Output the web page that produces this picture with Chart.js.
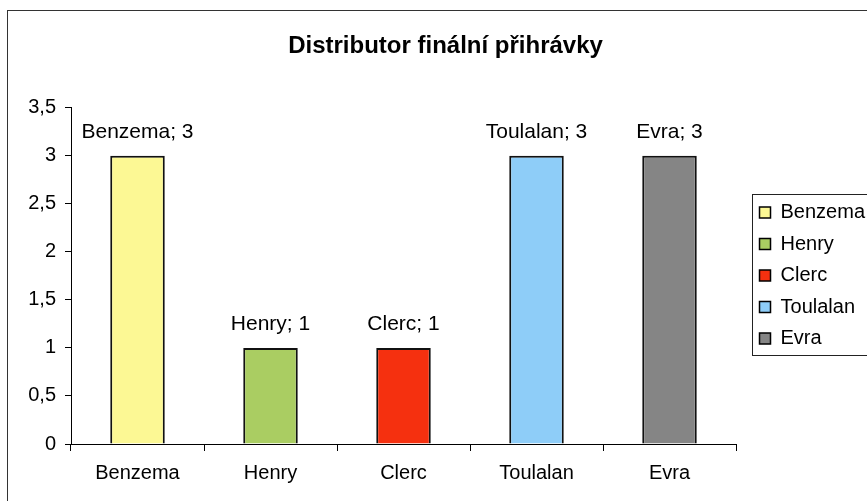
<!DOCTYPE html>
<html>
<head>
<meta charset="utf-8">
<script src="https://cdn.jsdelivr.net/npm/chart.js@4"></script>
<style>
  html, body { margin: 0; padding: 0; background: #fff; overflow: hidden; }
  #wrap { width: 867px; height: 501px; overflow: hidden; }
</style>
</head>
<body>
<div id="wrap"><canvas id="graf" width="900" height="501"></canvas></div>
<script>
// Datos del gráfico
const hraci = ["Benzema", "Henry", "Clerc", "Toulalan", "Evra"];
const prihravky = [3, 1, 1, 3, 3];
const barvy = ["#fcf894", "#aacd62", "#f5300f", "#8ecdf8", "#858585"];
const osaY = [0, 0.5, 1, 1.5, 2, 2.5, 3, 3.5];

const fuente = "'Liberation Sans', Arial, sans-serif";

// Marco exterior + recuadro de la leyenda + etiquetas de datos
const extras = {
  id: "extras",
  afterInit(chart) {
    // leyenda algo más ancha para dejar hueco tras el eje X
    const lg = chart.legend;
    const fitOrig = lg.fit.bind(lg);
    lg.fit = function () { fitOrig(); this.width += 21; };
  },
  afterLayout(chart) {
    const lg = chart.legend;
    lg.left += 12; lg.right += 12;
    lg.top += 20; lg.bottom += 20;
  },
  beforeDraw(chart) {
    const c = chart.ctx;
    c.save();
    c.strokeStyle = "#333";
    c.lineWidth = 1;
    c.strokeRect(7.5, 10.5, 1000, 600);
    c.restore();
  },
  afterDraw(chart) {
    const c = chart.ctx;
    const hb = chart.legend.legendHitBoxes;
    c.save();
    c.strokeStyle = "#222";
    c.lineWidth = 1;
    const x0 = Math.round(hb[0].left) - 8;
    const y0 = Math.round(hb[0].top) - 9;
    const y1 = Math.round(hb[hb.length - 1].top + hb[hb.length - 1].height) + 6;
    c.strokeRect(x0 + 0.5, y0 + 0.5, 400, y1 - y0);
    // etiquetas "Nombre; valor"
    const meta = chart.getDatasetMeta(0);
    c.fillStyle = "#000";
    c.font = "21px " + fuente;
    c.textAlign = "center";
    c.textBaseline = "middle";
    meta.data.forEach((bar, i) => {
      c.fillText(hraci[i] + "; " + prihravky[i], bar.x, bar.y - 24);
    });
    c.restore();
  }
};

new Chart(document.getElementById("graf"), {
  type: "bar",
  data: {
    labels: hraci,
    datasets: [{
      data: prihravky,
      backgroundColor: barvy,
      borderColor: "#111",
      borderWidth: 2,
      categoryPercentage: 1,
      barPercentage: 0.41
    }]
  },
  options: {
    responsive: false,
    animation: false,
    layout: { padding: { left: 7, top: 10, right: 16, bottom: 0 } },
    plugins: {
      title: {
        display: true,
        text: "Distributor finální přihrávky",
        color: "#000",
        font: { family: fuente, size: 24, weight: "bold" },
        padding: { top: 22, bottom: 47 }
      },
      legend: {
        position: "right",
        labels: {
          color: "#000",
          font: { family: fuente, size: 20 },
          boxWidth: 11,
          boxHeight: 11,
          padding: 11.5,
          generateLabels: () => hraci.map((h, i) => ({
            text: h,
            fillStyle: barvy[i],
            strokeStyle: "#000",
            lineWidth: 1.5,
            index: i
          }))
        }
      },
      tooltip: { enabled: false }
    },
    scales: {
      y: {
        min: 0,
        max: 3.5,
        afterBuildTicks: (s) => { s.ticks = osaY.map(v => ({ value: v })); },
        afterFit: (s) => { s.width = 64; },
        border: { display: true, color: "#000", width: 1 },
        grid: { drawOnChartArea: false, tickLength: 6, color: "#000" },
        ticks: {
          color: "#000",
          padding: 9,
          font: { family: fuente, size: 20 },
          callback: (v) => String(v).replace(".", ",")
        }
      },
      x: {
        afterFit: (s) => { s.height = 57; },
        border: { display: true, color: "#000", width: 1 },
        grid: { offset: true, drawOnChartArea: false, tickLength: 7, color: "#000" },
        ticks: {
          color: "#000",
          padding: 10,
          font: { family: fuente, size: 20 }
        }
      }
    }
  },
  plugins: [extras]
});
</script>
</body>
</html>
